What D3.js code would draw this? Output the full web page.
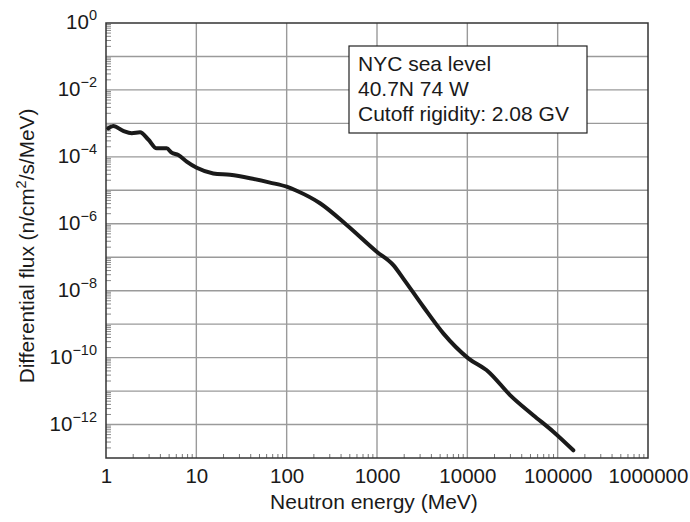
<html lang='en'>
<head>
   <meta charset='UTF-8'>
   <script src='https://d3js.org/d3.v7.min.js'></script>
   <style>
      body{ margin:0; padding:0; background:white; }
      text{ font-family:'Liberation Sans', Arial, Helvetica, sans-serif; fill:#1a1a1a; }
   </style>
</head>
<body>
   <div id='tavola'></div>
   <script>
   // neutron energy (MeV) and differential flux
   var energy = [1.06, 1.2, 1.55, 1.93, 2.38, 2.94, 3.64, 4.7, 5.33, 6.31, 7.82, 10.1, 15.4, 23.6, 39.3, 65.4,
                 100, 129, 234, 462, 993, 1517, 1955, 3260, 5420, 10260, 17100, 29700, 53700, 89500, 149000];
   var flux = [7.1e-4, 8.4e-4, 6.0e-4, 5.1e-4, 5.4e-4, 3.3e-4, 1.8e-4, 1.8e-4, 1.33e-4, 1.13e-4, 7.2e-5, 4.7e-5,
               3.2e-5, 2.9e-5, 2.3e-5, 1.7e-5, 1.28e-5, 9.7e-6, 4.1e-6, 9.2e-7, 1.46e-7, 5.8e-8, 2.3e-8, 3.3e-9,
               5.3e-10, 9.5e-11, 3.8e-11, 7.6e-12, 1.9e-12, 6.1e-13, 1.7e-13];
   var xTicks = [1, 10, 100, 1000, 10000, 100000, 1000000];
   var yExps = [0, -2, -4, -6, -8, -10, -12];
   var legendLines = ['NYC sea level', '40.7N 74 W', 'Cutoff rigidity: 2.08 GV'];

   var W = 690, H = 522;
   var L = 106, R = 648, T = 23, B = 458;

   var svg = d3.select('#tavola').append('svg')
      .attr('width', W).attr('height', H);

   var x = d3.scaleLog().domain([1, 1e6]).range([L, R]);
   var y = d3.scaleLog().domain([1e-13, 1]).range([B, T]);

   // minor ticks
   var xMinor = [], yMinor = [];
   for (var d = 0; d < 6; d++) {
      for (var k = 2; k < 10; k++) xMinor.push(k * Math.pow(10, d));
   }
   for (var e = -13; e < 0; e++) {
      for (var k = 2; k < 10; k++) yMinor.push(k * Math.pow(10, e));
   }

   // gridlines
   var xGrid = d3.range(1, 6).map(function (p) { return Math.pow(10, p); });
   var yGrid = d3.range(-12, 0).map(function (p) { return Math.pow(10, p); });

   svg.append('g').selectAll('line').data(xGrid).enter().append('line')
      .attr('x1', function (v) { return x(v); }).attr('x2', function (v) { return x(v); })
      .attr('y1', T).attr('y2', B)
      .attr('stroke', '#9a9a9a').attr('stroke-width', 1.4);

   svg.append('g').selectAll('line').data(yGrid).enter().append('line')
      .attr('x1', L).attr('x2', R)
      .attr('y1', function (v) { return y(v); }).attr('y2', function (v) { return y(v); })
      .attr('stroke', '#9a9a9a').attr('stroke-width', 1.4);

   svg.append('g').selectAll('line').data(xMinor).enter().append('line')
      .attr('x1', function (v) { return x(v); }).attr('x2', function (v) { return x(v); })
      .attr('y1', B).attr('y2', B - 4)
      .attr('stroke', '#777').attr('stroke-width', 1);

   svg.append('g').selectAll('line').data(yMinor).enter().append('line')
      .attr('x1', L).attr('x2', L + 5)
      .attr('y1', function (v) { return y(v); }).attr('y2', function (v) { return y(v); })
      .attr('stroke', '#888').attr('stroke-width', 1);

   // frame
   svg.append('rect')
      .attr('x', L).attr('y', T).attr('width', R - L).attr('height', B - T)
      .attr('fill', 'none').attr('stroke', '#333').attr('stroke-width', 1.5);

   // x axis labels
   var xAxis = d3.axisBottom(x).tickValues(xTicks).tickSize(0).tickPadding(0)
      .tickFormat(function (v) { return String(v); });
   var gx = svg.append('g').attr('transform', 'translate(0,' + B + ')').call(xAxis);
   gx.select('.domain').remove();
   gx.selectAll('text')
      .attr('y', 25).attr('dy', 0)
      .attr('font-size', 20.5)
      .style('font-family', "'Liberation Sans', Arial, sans-serif")
      .attr('fill', '#1a1a1a');

   // y axis labels with superscripts
   var gy = svg.append('g');
   var yl = gy.selectAll('text').data(yExps).enter().append('text')
      .attr('x', 97)
      .attr('y', function (p) { return y(Math.pow(10, p)) + 6; })
      .attr('text-anchor', 'end')
      .attr('font-size', 20.5);
   yl.append('tspan').text('10');
   yl.append('tspan')
      .attr('font-size', 14.5).attr('dy', -9)
      .text(function (p) { return p === 0 ? '0' : '\u2212' + (-p); });

   // curve
   var pts = energy.map(function (v, i) { return [v, flux[i]]; });
   var line = d3.line()
      .x(function (p) { return x(p[0]); })
      .y(function (p) { return y(p[1]); })
      .curve(d3.curveMonotoneX);
   svg.append('path').datum(pts)
      .attr('d', line)
      .attr('fill', 'none')
      .attr('stroke', '#1a1a1a')
      .attr('stroke-width', 4)
      .attr('stroke-linejoin', 'round')
      .attr('stroke-linecap', 'round');

   // legend box
   var lg = svg.append('g');
   lg.append('rect')
      .attr('x', 349).attr('y', 46).attr('width', 238).attr('height', 87)
      .attr('fill', 'white').attr('stroke', '#222').attr('stroke-width', 1.2);
   lg.selectAll('text').data(legendLines).enter().append('text')
      .attr('x', 358)
      .attr('y', function (s, i) { return 71 + i * 25; })
      .attr('font-size', 21)
      .text(function (s) { return s; });

   // axis titles
   svg.append('text')
      .attr('x', 374).attr('y', 509)
      .attr('text-anchor', 'middle')
      .attr('font-size', 21)
      .text('Neutron energy (MeV)');

   var yt = svg.append('text')
      .attr('transform', 'translate(34,246) rotate(-90)')
      .attr('text-anchor', 'middle')
      .attr('font-size', 20.8);
   yt.append('tspan').text('Differential flux (n/cm');
   yt.append('tspan').attr('font-size', 14.5).attr('dy', -8).text('2');
   yt.append('tspan').attr('dy', 8).text('/s/MeV)');
   </script>
</body>
</html>
